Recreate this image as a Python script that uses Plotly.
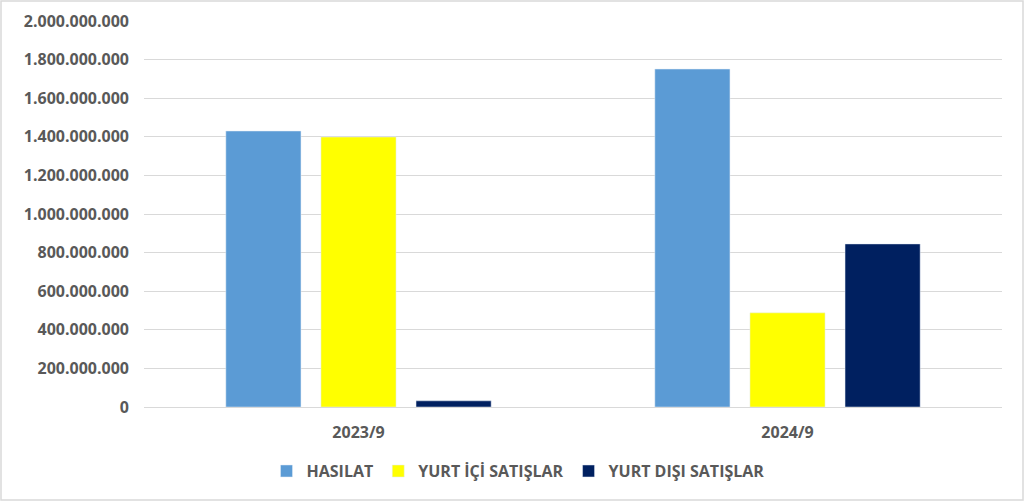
import plotly.graph_objects as go

periods = ["2023/9", "2024/9"]
hasilat = [1430000000, 1751000000]
yurt_ici = [1399000000, 488000000]
yurt_disi = [32000000, 845000000]
y_ticks = list(range(0, 2000000001, 200000000))
y_tick_labels = ["0"] + [f"{v:,}".replace(",", ".") for v in y_ticks[1:]]

fig = go.Figure()
fig.add_trace(go.Bar(name="HASILAT", x=periods, y=hasilat, marker_color="#5b9bd5"))
fig.add_trace(go.Bar(name="YURT İÇİ SATIŞLAR", x=periods, y=yurt_ici, marker_color="#ffff00"))
fig.add_trace(go.Bar(name="YURT DIŞI SATIŞLAR", x=periods, y=yurt_disi, marker_color="#002060"))

fig.update_layout(
    width=1024, height=501,
    barmode="group", bargap=0.335, bargroupgap=0.21,
    plot_bgcolor="white", paper_bgcolor="white",
    font=dict(family="Open Sans", size=16, color="#595959", weight="bold"),
    margin=dict(l=144, r=22, t=21, b=94),
    legend=dict(orientation="h", x=(518 - 144) / 858, xanchor="center", y=-0.122, yanchor="top",
                font=dict(size=16), traceorder="normal", itemwidth=30),
    shapes=[dict(type="rect", xref="paper", yref="paper",
                 x0=-143 / 858, x1=1 + 21 / 858, y0=-93 / 386, y1=1 + 20 / 386,
                 line=dict(color="#d9d9d9", width=1.5))],
)
fig.update_yaxes(range=[0, 2000000000], tickvals=y_ticks, ticktext=y_tick_labels,
                 showgrid=True, gridcolor="#d9d9d9", zeroline=False, ticks="",
                 ticklabelstandoff=14, automargin=False)
fig.update_xaxes(showline=True, linecolor="#d9d9d9", ticklabelstandoff=11, automargin=False)

fig.write_html("out.html", config={"displayModeBar": False},
               post_script="document.body.style.margin='0px';")
